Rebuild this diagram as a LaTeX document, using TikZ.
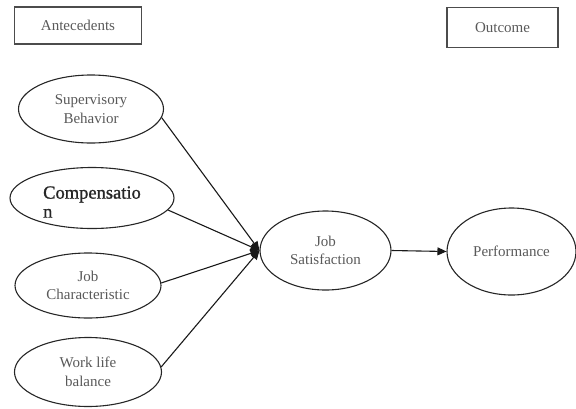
\documentclass[tikz,border=0pt]{standalone}
\usepackage{fontspec}
\setmainfont{Liberation Serif}
\newfontfamily\compfont[FakeBold=1.2]{Liberation Serif}
\usetikzlibrary{shapes.geometric,arrows.meta}

\begin{document}
\begin{tikzpicture}[x=1pt,y=-1pt,
		oval/.style={draw=black!85,line width=1.1pt,ellipse,inner sep=0pt,text=black!65,font=\fontsize{15}{18.5}\selectfont,align=center},
		hdr/.style={draw=black!70,line width=1.6pt,inner sep=0pt,text=black!65,font=\fontsize{15}{18}\selectfont},
		arr/.style={draw=black!90,line width=1.1pt,-{Triangle[length=9pt,width=8pt]}}]
			\useasboundingbox (0,0) rectangle (576,408);
			\node[hdr,minimum width=127pt,minimum height=37pt] (ante) at (78,25.5) {Antecedents};
			\node[hdr,minimum width=111pt,minimum height=40pt] (outc) at (502.5,27.5) {Outcome};
			\node[oval,minimum width=145pt,minimum height=68pt] (sup) at (91,109) {Supervisory\\Behavior};
			\node[oval,minimum width=164pt,minimum height=61pt,
				label={[yshift=-4pt,text=black!85,font=\compfont\fontsize{18.5}{19}\selectfont,align=left]center:Compensatio\\n\hspace{88pt}}] (comp) at (92,198) {};
			\node[oval,minimum width=146pt,minimum height=65pt] (jobc) at (88,285.5) {Job\\Characteristic};
			\node[oval,minimum width=147pt,minimum height=69pt] (wlb) at (88,372) {Work life\\balance};
			\node[oval,minimum width=131pt,minimum height=79pt] (js) at (325.5,250.5) {Job\\Satisfaction};
			\node[oval,minimum width=129pt,minimum height=87pt] (perf) at (511.5,251.5) {Performance};
			\draw[arr] (sup.-7) -- (js.west);
			\draw[arr] (comp.-9) -- (js.west);
			\draw[arr] (jobc.2) -- (js.west);
			\draw[arr] (wlb.4) -- (js.west);
			\draw[arr] (js.east) -- (perf.west);
		\end{tikzpicture}
\end{document}
